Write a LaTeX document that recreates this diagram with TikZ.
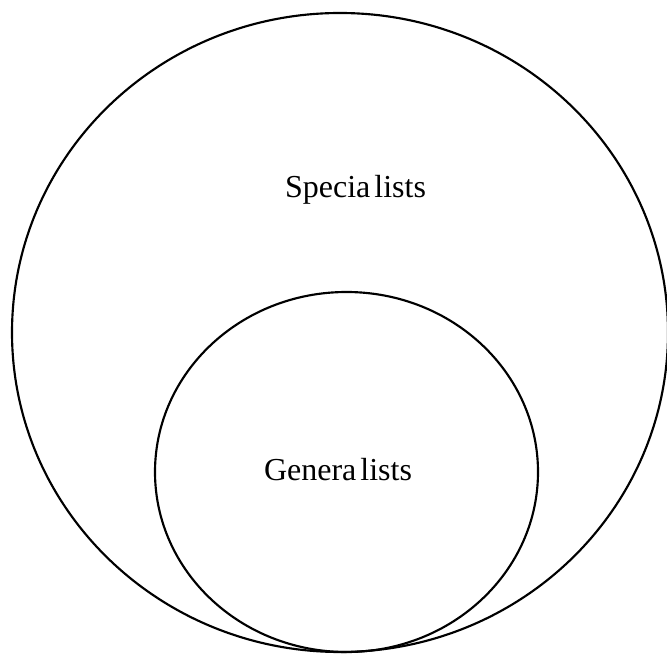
\documentclass[tikz,border=0pt]{standalone}
\usepackage{fontspec}
\setmainfont{Liberation Serif}
\usetikzlibrary{shapes.geometric}
\begin{document}
\begin{tikzpicture}[x=0.75pt,y=-0.75pt,
  ring/.style={draw=black, line width=1.6pt, ellipse, inner sep=0pt},
  label/.style={anchor=base, inner sep=0pt, font=\fontsize{24}{28}\selectfont}]
  \useasboundingbox (0,0) rectangle (667,655);
  % outer set
  \node[ring, minimum width=656*0.75pt, minimum height=639*0.75pt] (outer) at (340,332.5) {};
  % inner set, tangent to the outer one at the bottom
  \node[ring, minimum width=383*0.75pt, minimum height=360*0.75pt] (inner) at (346.5,472) {};
  \node[label] (spec) at (355.5,198) {Specia\kern3pt lists};
  \node[label] (gen) at (338,480) {Genera\kern3pt lists};
\end{tikzpicture}
\end{document}
